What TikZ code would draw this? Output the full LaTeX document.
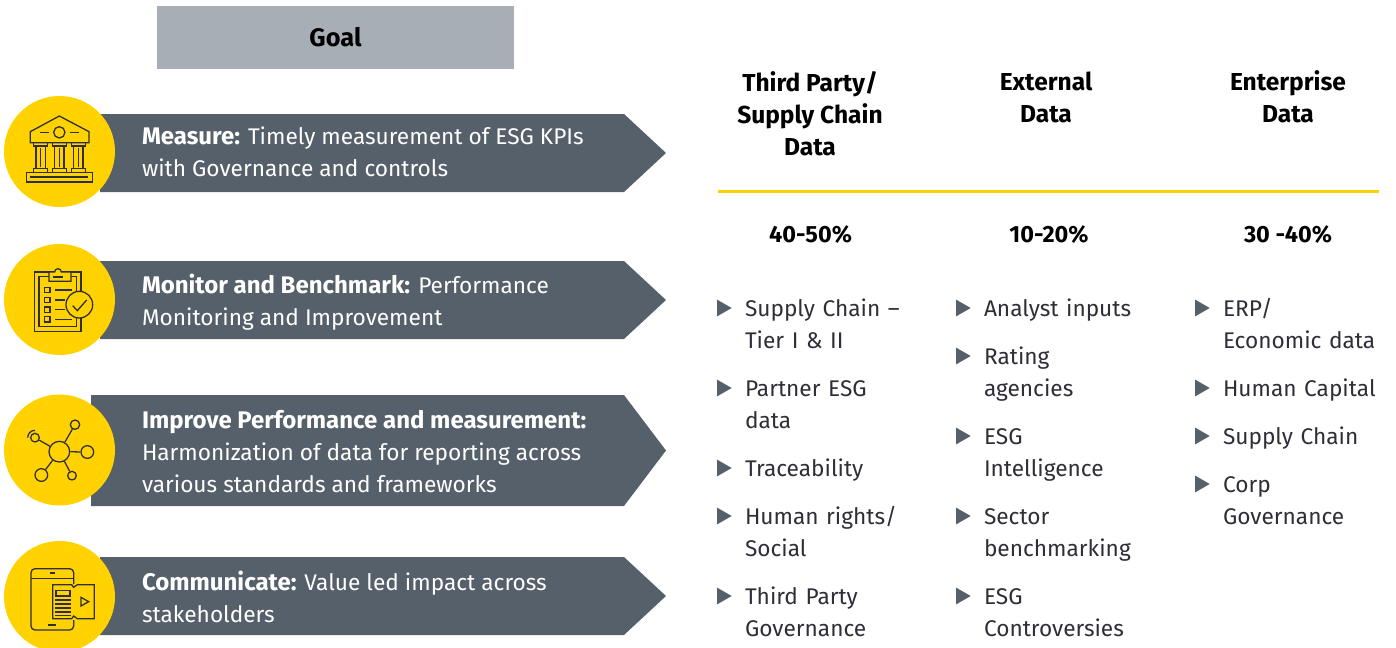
\documentclass[tikz,border=0pt]{standalone}
\usepackage{fontspec}
\setmainfont{Fira Sans}
\usetikzlibrary{positioning,shapes.geometric}
\definecolor{eyyellow}{HTML}{FFD200}
\definecolor{eyslate}{HTML}{56606B}
\definecolor{eygrey}{HTML}{A7AEB5}
\definecolor{eyink}{HTML}{2E2E38}
\newcommand{\leadin}[1]{{\fontsize{18}{24}\selectfont\bfseries #1}}
\tikzstyle{badge} = [fill=eyyellow]
\tikzstyle{banner} = [fill=eyslate]
\tikzstyle{icon} = [draw=eyink, line width=0.95pt]
\tikzstyle{goalbox} = [rectangle, fill=eygrey, minimum width=267.75pt, minimum height=47.25pt, text=black, font=\fontsize{19}{24}\selectfont\bfseries]
\tikzstyle{bannertext} = [anchor=north west, inner sep=0pt, outer sep=0pt, align=left, text=white, font=\fontsize{17}{24}\selectfont, execute at begin node=\strut, execute at end node=\strut]
\tikzstyle{header} = [anchor=north, inner sep=0pt, outer sep=0pt, align=center, text=black, font=\fontsize{18.4}{24}\selectfont\bfseries, execute at begin node=\strut, execute at end node=\strut]
\tikzstyle{share} = [header, font=\fontsize{17.6}{24}\selectfont\bfseries]
\tikzstyle{itemtext} = [inner sep=0pt, outer sep=0pt, text width=120pt, align=left, text=eyink, font=\fontsize{17}{24}\selectfont, execute at begin node=\strut, execute at end node=\strut]
\tikzstyle{bullet} = [regular polygon, regular polygon sides=3, shape border rotate=-90, fill=eyslate, inner sep=0pt, minimum size=14.5pt]
\tikzstyle{hubnode} = [circle, icon, inner sep=0pt]
\begin{document}
\begin{tikzpicture}[x=0.75pt, y=-0.75pt, node distance=12pt]
	\useasboundingbox (0,0) rectangle (1396,647);
	\node[goalbox] (goal) at (335.5,37.5) {\raisebox{-0.75pt}{Goal}};

	% banners
	\fill[banner] (100,114) -- (624,114) -- (666,153) -- (624,192) -- (100,192) -- cycle;
	\fill[banner] (100,261) -- (624,261) -- (666,300) -- (624,339) -- (100,339) -- cycle;
	\fill[banner] (91,395) -- (624,395) -- (666,450.5) -- (624,506) -- (91,506) -- cycle;
	\fill[banner] (100,557) -- (624,557) -- (666,596) -- (624,635) -- (100,635) -- cycle;
	\fill[badge] (59.5,151.5) circle (55.5);
	\fill[badge] (59.5,299.5) circle (55.5);
	\fill[badge] (59.5,450) circle (55.5);
	\fill[badge] (59.5,596.5) circle (55.5);

	\node[bannertext] (measure) at (142,127) {\leadin{Measure:} Timely measurement of ESG KPIs\\with Governance and controls};
	\node[bannertext] (monitor) at (142,274) {\leadin{Monitor and Benchmark:} Performance\\Monitoring and Improvement};
	\node[bannertext] (improve) at (142,410) {\leadin{Improve Performance and measurement:}\\Harmonization of data for reporting across\\various standards and frameworks};
	\node[bannertext] (comm) at (142,571) {\leadin{Communicate:} Value led impact across\\stakeholders};

	% bank icon
	\begin{scope}[shift={(0,90)}, x=0.25pt, y=-0.25pt]
		\draw[icon] (91,125) -- (178,78) -- (267,125) -- (267,158) -- (91,158) -- cycle;
		\draw[icon] (178,127) circle (17);
		\draw[icon] (120,127) -- (147,127) (210,127) -- (237,127);
		\foreach \cx in {122,178,235} {
			\draw[icon] (\cx-21,158) rectangle (\cx+21,168);
			\draw[icon] (\cx-14,168) rectangle (\cx+14,236);
			\draw[icon] (\cx,175) -- (\cx,230);
			\draw[icon] (\cx-21,236) rectangle (\cx+21,248);
		}
		\draw[icon] (79,248) rectangle (278,276);
		\draw[icon] (90,261) -- (265,261);
	\end{scope}

	% checklist icon
	\begin{scope}[shift={(0,90)}, x=0.25pt, y=-0.25pt]
		\draw[icon] (103,546) rectangle (243,724);
		\draw[icon] (117,560) rectangle (229,710);
		\draw[icon, fill=eyyellow] (147,546) -- (164,546) arc (180:360:10) -- (213,546) -- (213,574) -- (147,574) -- cycle;
		\draw[icon] (158,561) -- (190,561);
		\foreach \ly/\lx in {600/215,630/195,659/195,688/215} {
			\draw[icon] (134,\ly-8) rectangle (150,\ly+8);
			\draw[icon] (165,\ly) -- (\lx,\ly);
		}
		\draw[icon, fill=eyyellow] (238,644) circle (40);
		\draw[icon] (218,647) -- (232,662) -- (260,630);
	\end{scope}

	% network icon
	\begin{scope}[shift={(0,380)}, x=0.25pt, y=-0.25pt]
		\node[hubnode, minimum size=15.5pt] (hub) at (178,215) {};
		\node[hubnode, minimum size=9.5pt] (sat1) at (262,216) {};
		\node[hubnode, minimum size=7pt] (sat2) at (225,134) {};
		\node[hubnode, minimum size=6.5pt] (sat3) at (105,173) {};
		\node[hubnode, minimum size=9.5pt] (sat4) at (124,285) {};
		\node[hubnode, minimum size=6.5pt] (sat5) at (216,287) {};
		\foreach \s in {sat1,sat2,sat3,sat4,sat5}
			\draw[icon] (hub) -- (\s);
		\draw[icon] (105,151) arc (270:180:22);
	\end{scope}

	% tablet icon
	\begin{scope}[shift={(0,380)}, x=0.25pt, y=-0.25pt]
		\draw[icon, rounded corners=3pt] (221,612) -- (221,566) -- (93,566) -- (93,750) -- (221,750) -- (221,720);
		\draw[icon] (93,595) -- (221,595);
		\draw[icon] (150,579) -- (165,579) (145,735) -- (168,735);
		\draw[icon] (158,614) -- (215,614) -- (221,622) -- (232,614) -- (283,614) -- (283,716) -- (232,716) -- (221,708) -- (215,716) -- (158,716) -- cycle;
		\draw[icon] (168,632) rectangle (210,648);
		\foreach \ly in {660,672,684,696,706}
			\draw[icon] (165,\ly) -- (213,\ly);
		\draw[icon] (243,652) -- (266,665) -- (243,678) -- cycle;
	\end{scope}

	% data columns
	\node[header] (head1) at (810,71) {Third Party/\\Supply Chain\\Data};
	\node[header] (head2) at (1046,72) {External\\Data};
	\node[header] (head3) at (1288,71) {Enterprise\\Data};
	\draw[eyyellow, line width=2.25pt] (718,191) -- (1379,191);
	\node[share] (pct1) at (810.5,220) {40-50\%};
	\node[share] (pct2) at (1049,220) {10-20\%};
	\node[share] (pct3) at (1288,220) {30 -40\%};

	\node[itemtext, anchor=north west] (a1) at (745,294) {Supply Chain –\\Tier I \& II};
	\node[itemtext, below=of a1] (a2) {Partner ESG\\data};
	\node[itemtext, below=of a2] (a3) {Traceability};
	\node[itemtext, below=of a3] (a4) {Human rights/\\Social};
	\node[itemtext, below=of a4] (a5) {Third Party\\Governance};

	\node[itemtext, anchor=north west] (b1) at (984,294) {Analyst inputs};
	\node[itemtext, below=of b1] (b2) {Rating\\agencies};
	\node[itemtext, below=of b2] (b3) {ESG\\Intelligence};
	\node[itemtext, below=of b3] (b4) {Sector\\benchmarking};
	\node[itemtext, below=of b4] (b5) {ESG\\Controversies};

	\node[itemtext, anchor=north west] (c1) at (1223,294) {ERP/\\Economic data};
	\node[itemtext, below=of c1] (c2) {Human Capital};
	\node[itemtext, below=of c2] (c3) {Supply Chain};
	\node[itemtext, below=of c3] (c4) {Corp\\Governance};

	\foreach \n in {a1,a2,a3,a4,a5,b1,b2,b3,b4,b5,c1,c2,c3,c4}
		\node[bullet] (tip\n) at ([shift={(-23,14)}]\n.north west) {};
\end{tikzpicture}
\end{document}
